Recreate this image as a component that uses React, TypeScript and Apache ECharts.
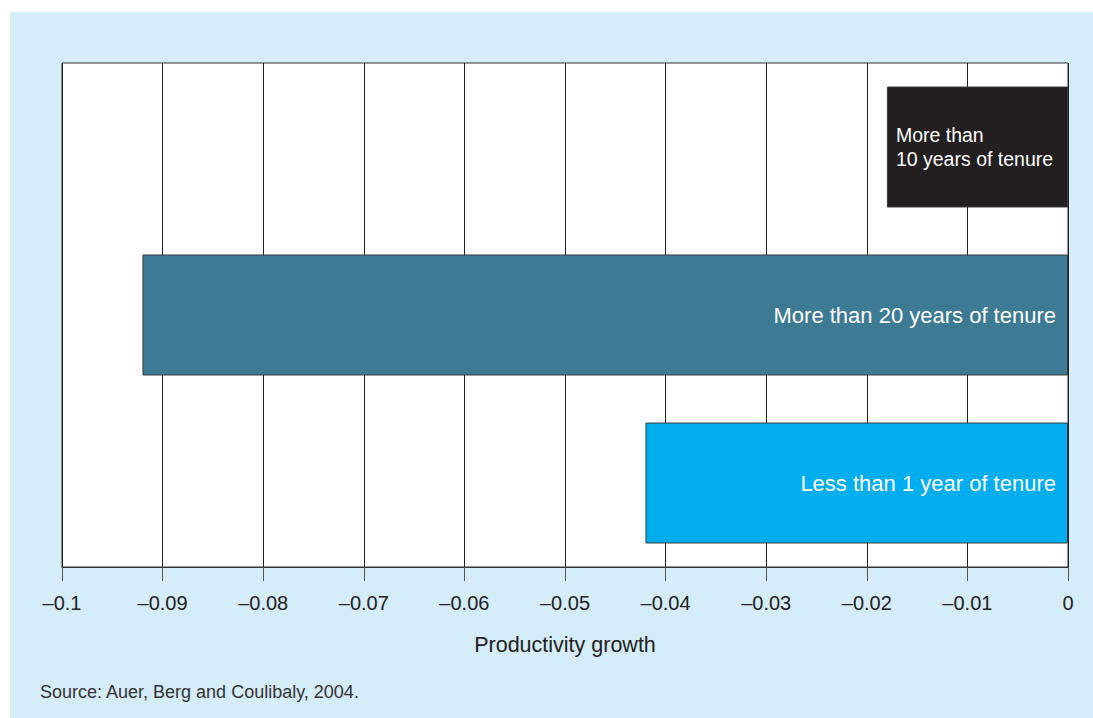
import React, { useEffect, useRef } from "react";
import * as echarts from "echarts";

// Categories listed from top to bottom
const categories = [
  "More than 10 years of tenure",
  "More than 20 years of tenure",
  "Less than 1 year of tenure",
];
const barLabels = [
  "More than\n10 years of tenure",
  "More than 20 years of tenure",
  "Less than 1 year of tenure",
];
const productivityGrowth = [-0.018, -0.092, -0.042];
const barColors = ["#231f20", "#3d7a93", "#00adee"];
const tickValues = [-0.1, -0.09, -0.08, -0.07, -0.06, -0.05, -0.04, -0.03, -0.02, -0.01, 0];
const tickLabels = ["–0.1", "–0.09", "–0.08", "–0.07", "–0.06", "–0.05", "–0.04", "–0.03", "–0.02", "–0.01", "0"];

const FONT = "'Liberation Sans', Arial, Helvetica, sans-serif";

export default function App() {
  const ref = useRef<HTMLDivElement>(null);

  useEffect(() => {
    if (!ref.current) return;
    const chart = echarts.init(ref.current, null, { renderer: "svg" });

    const labelFor = (v: number) => {
      const idx = tickValues.findIndex((t) => Math.abs(t - v) < 1e-6);
      return idx >= 0 ? tickLabels[idx] : "";
    };

    chart.setOption({
      animation: false,
      backgroundColor: "#ffffff",
      graphic: [
        {
          type: "rect",
          z: -10,
          silent: true,
          shape: { x: 10, y: 12, width: 1083, height: 706 },
          style: { fill: "#d5ecf9" },
        },
        {
          type: "text",
          left: 40,
          top: 683,
          style: {
            text: "Source: Auer, Berg and Coulibaly, 2004.",
            fill: "#333333",
            font: `18px ${FONT}`,
          },
        },
      ],
      grid: {
        left: 62,
        right: 25,
        top: 63,
        bottom: 151,
        show: true,
        backgroundColor: "#ffffff",
        borderColor: "#333333",
        borderWidth: 1,
      },
      xAxis: {
        type: "value",
        min: -0.1,
        max: 0,
        interval: 0.01,
        name: "Productivity growth",
        nameLocation: "middle",
        nameGap: 67,
        nameTextStyle: { fontFamily: FONT, fontSize: 21.5, color: "#222222" },
        axisLine: { show: true, lineStyle: { color: "#333333", width: 1 } },
        axisTick: { show: true, inside: false, length: 14, lineStyle: { color: "#555555" } },
        axisLabel: {
          margin: 26,
          fontFamily: FONT,
          fontSize: 20,
          color: "#222222",
          formatter: (v: number) => labelFor(v),
        },
        splitLine: { show: true, lineStyle: { color: "#222222", width: 1 } },
      },
      yAxis: {
        type: "category",
        data: categories,
        inverse: true,
        axisLine: { show: false },
        axisTick: { show: false },
        axisLabel: { show: false },
        splitLine: { show: false },
      },
      series: [
        {
          type: "bar",
          barCategoryGap: "28%",
          data: productivityGrowth.map((v, i) => ({
            value: v,
            itemStyle: { color: barColors[i], borderColor: "#3a3a3a", borderWidth: 1 },
            label: {
              show: true,
              formatter: barLabels[i],
              position: i === 0 ? "insideLeft" : "insideRight",
              distance: i === 0 ? 9 : 12,
              align: i === 0 ? "left" : "right",
              color: "#ffffff",
              fontFamily: FONT,
              fontSize: i === 0 ? 19.5 : 22,
              lineHeight: 24,
            },
          })),
        },
      ],
    });

    return () => chart.dispose();
  }, []);

  return (
    <div
      ref={ref}
      style={{ position: "absolute", left: 0, top: 0, width: 1093, height: 718 }}
    />
  );
}
